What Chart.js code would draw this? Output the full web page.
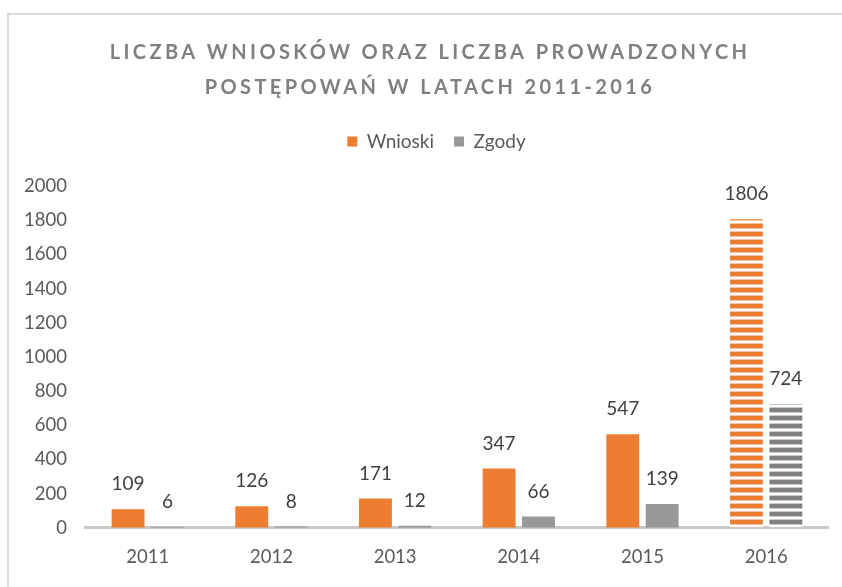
<!DOCTYPE html>
<html>
<head>
<meta charset="utf-8">
<script src="https://cdn.jsdelivr.net/npm/chart.js@4.4.0/dist/chart.umd.min.js"></script>
<style>
html, body { margin: 0; padding: 0; background: #fff; }
</style>
</head>
<body>
<canvas id="chart" width="842" height="587"></canvas>
<script>
// Dane wykresu
const titleLines = ['LICZBA WNIOSKÓW ORAZ LICZBA PROWADZONYCH', 'POSTĘPOWAŃ W LATACH 2011-2016'];
const years = ['2011', '2012', '2013', '2014', '2015', '2016'];
const wnioski = [109, 126, 171, 347, 547, 1806];
const zgody = [6, 8, 12, 66, 139, 724];
const yMax = 2000;
const yStep = 200;

const orange = '#ED7D31';
const gray = '#989898';
const textColor = '#595959';

const canvas = document.getElementById('chart');
const ctx = canvas.getContext('2d');

// paski poziome dla ostatniego słupka
function stripes(color) {
    const c = document.createElement('canvas');
    c.width = 8;
    c.height = 8;
    const g = c.getContext('2d');
    g.fillStyle = '#fff';
    g.fillRect(0, 0, 8, 8);
    g.fillStyle = color;
    g.fillRect(0, 0, 8, 4);
    g.globalAlpha = 0.45;
    g.fillRect(0, 4, 8, 1);
    g.fillRect(0, 7, 8, 1);
    return ctx.createPattern(c, 'repeat');
}

function barColors(color, stripeColor) {
    return years.map((y, i) => i === years.length - 1 ? stripes(stripeColor) : color);
}

// ramka i tytuł z rozstrzeloną czcionką
const titlePlugin = {
    id: 'spacedTitle',
    beforeDraw(chart) {
        const c = chart.ctx;
        c.save();
        c.strokeStyle = '#d9d9d9';
        c.lineWidth = 2;
        c.beginPath();
        c.moveTo(8, chart.height);
        c.lineTo(8, 14);
        c.lineTo(chart.width, 14);
        c.stroke();
        c.font = 'bold 20px Lato';
        c.letterSpacing = '3.4px';
        c.fillStyle = '#7f7f7f';
        c.textAlign = 'center';
        c.textBaseline = 'middle';
        titleLines.forEach((t, i) => c.fillText(t, 430, 53 + i * 35));
        c.restore();
    }
};

// odstęp pod legendą i przesunięcie legendy
const legendGap = {
    id: 'legendGap',
    beforeInit(chart) {
        const fit = chart.legend.fit;
        chart.legend.fit = function () {
            fit.bind(chart.legend)();
            this.height += 25;
        };
    },
    afterLayout(chart) {
        chart.legend.left += 20;
        chart.legend.right += 20;
    }
};

// etykiety wartości nad słupkami
const labelPlugin = {
    id: 'barLabels',
    afterDatasetsDraw(chart) {
        const c = chart.ctx;
        c.save();
        c.font = '19px Lato';
        c.fillStyle = '#404040';
        c.textAlign = 'center';
        c.textBaseline = 'middle';
        chart.data.datasets.forEach((ds, i) => {
            chart.getDatasetMeta(i).data.forEach((bar, j) => {
                c.fillText(ds.data[j], bar.x, bar.y - 25);
            });
        });
        c.restore();
    }
};

const tickFont = { family: 'Lato', size: 18.5 };

new Chart(ctx, {
    type: 'bar',
    data: {
        labels: years,
        datasets: [
            {
                label: 'Wnioski',
                data: wnioski,
                backgroundColor: barColors(orange, orange),
                categoryPercentage: 0.637,
                barPercentage: 0.835
            },
            {
                label: 'Zgody',
                data: zgody,
                backgroundColor: barColors(gray, '#808080'),
                categoryPercentage: 0.637,
                barPercentage: 0.835
            }
        ]
    },
    options: {
        responsive: false,
        animation: false,
        layout: { padding: { top: 112, left: 5, right: 14, bottom: 1 } },
        plugins: {
            title: { display: false },
            tooltip: { enabled: false },
            legend: {
                position: 'top',
                labels: {
                    font: { family: 'Lato', size: 19 },
                    color: textColor,
                    boxWidth: 10,
                    boxHeight: 10,
                    padding: 20
                }
            }
        },
        scales: {
            x: {
                z: 1,
                grid: { display: false, drawTicks: false },
                border: { color: '#c8c8c8', width: 3 },
                ticks: { font: tickFont, color: textColor, padding: 18 }
            },
            y: {
                min: 0,
                max: yMax,
                grid: { display: false, drawTicks: false },
                border: { display: false },
                ticks: {
                    stepSize: yStep,
                    font: tickFont,
                    color: textColor,
                    padding: 19,
                    callback: value => String(value)
                }
            }
        }
    },
    plugins: [legendGap, titlePlugin, labelPlugin]
});
</script>
</body>
</html>
